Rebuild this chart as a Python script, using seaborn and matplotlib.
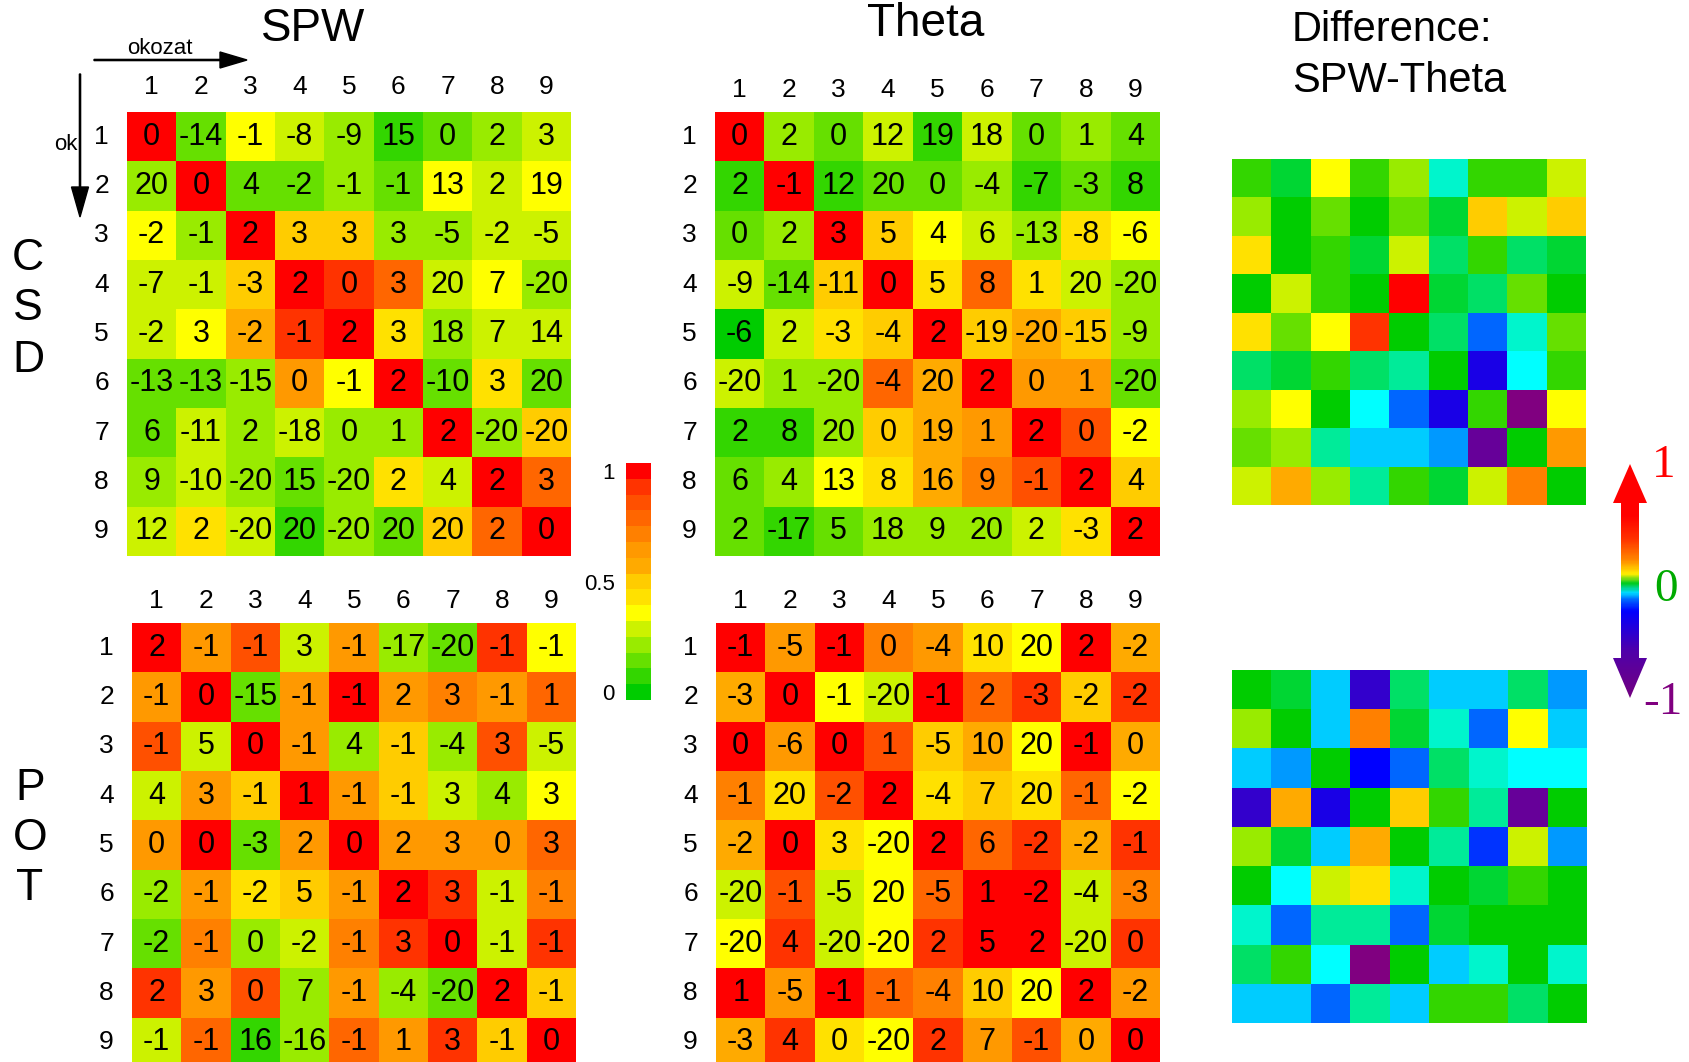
import numpy as np
import matplotlib
matplotlib.use("Agg")
import matplotlib.pyplot as plt
import seaborn as sns
from matplotlib.colors import ListedColormap, LinearSegmentedColormap
from matplotlib.patches import Polygon

channels = [str(i) for i in range(1, 10)]

# colour steps of the correlation maps: level 0 (r=0, green) .. 14 (r=1, red)
corr_colors = ["#00cc00", "#33d600", "#66e000", "#99eb00", "#ccf200", "#ffff00",
               "#ffe100", "#ffcc00", "#ffaa00", "#ff9900", "#ff8000", "#ff6600",
               "#ff5000", "#ff3300", "#ff0000"]
# difference maps: level -14 (purple) .. 0 (green) .. 14 (red)
neg_colors = ["#800080", "#660099", "#3300cc", "#1900e6", "#0000ff", "#0033ff",
              "#0066ff", "#0099ff", "#00ccff", "#00ffff", "#00f5cc", "#00eb99",
              "#00e066", "#00d633"]
diff_colors = neg_colors + corr_colors

# ---- CSD ----
spw_csd_lag = [[0, -14, -1, -8, -9, 15, 0, 2, 3],
               [20, 0, 4, -2, -1, -1, 13, 2, 19],
               [-2, -1, 2, 3, 3, 3, -5, -2, -5],
               [-7, -1, -3, 2, 0, 3, 20, 7, -20],
               [-2, 3, -2, -1, 2, 3, 18, 7, 14],
               [-13, -13, -15, 0, -1, 2, -10, 3, 20],
               [6, -11, 2, -18, 0, 1, 2, -20, -20],
               [9, -10, -20, 15, -20, 2, 4, 2, 3],
               [12, 2, -20, 20, -20, 20, 20, 2, 0]]
spw_csd_level = [[14, 2, 5, 4, 3, 1, 2, 3, 4],
                 [3, 14, 2, 2, 3, 2, 5, 4, 5],
                 [5, 3, 14, 7, 7, 3, 3, 4, 4],
                 [4, 4, 7, 14, 13, 11, 4, 5, 3],
                 [4, 5, 8, 13, 14, 6, 3, 4, 4],
                 [2, 2, 3, 9, 5, 14, 2, 6, 2],
                 [2, 4, 3, 4, 3, 3, 14, 3, 7],
                 [3, 4, 3, 2, 3, 6, 4, 14, 11],
                 [4, 6, 4, 1, 3, 2, 7, 11, 14]]

theta_csd_lag = [[0, 2, 0, 12, 19, 18, 0, 1, 4],
                 [2, -1, 12, 20, 0, -4, -7, -3, 8],
                 [0, 2, 3, 5, 4, 6, -13, -8, -6],
                 [-9, -14, -11, 0, 5, 8, 1, 20, -20],
                 [-6, 2, -3, -4, 2, -19, -20, -15, -9],
                 [-20, 1, -20, -4, 20, 2, 0, 1, -20],
                 [2, 8, 20, 0, 19, 1, 2, 0, -2],
                 [6, 4, 13, 8, 16, 9, -1, 2, 4],
                 [2, -17, 5, 18, 9, 20, 2, -3, 2]]
theta_csd_level = [[14, 3, 2, 4, 1, 4, 2, 3, 2],
                   [1, 14, 1, 2, 2, 3, 1, 2, 1],
                   [2, 3, 14, 7, 5, 4, 3, 6, 5],
                   [4, 2, 7, 14, 6, 11, 6, 4, 3],
                   [0, 4, 6, 7, 14, 7, 8, 7, 3],
                   [4, 3, 3, 11, 8, 14, 9, 9, 2],
                   [1, 1, 3, 7, 8, 9, 14, 12, 5],
                   [2, 3, 5, 6, 8, 10, 12, 14, 7],
                   [2, 1, 2, 3, 3, 3, 4, 6, 14]]

# ---- POT ----
spw_pot_lag = [[2, -1, -1, 3, -1, -17, -20, -1, -1],
               [-1, 0, -15, -1, -1, 2, 3, -1, 1],
               [-1, 5, 0, -1, 4, -1, -4, 3, -5],
               [4, 3, -1, 1, -1, -1, 3, 4, 3],
               [0, 0, -3, 2, 0, 2, 3, 0, 3],
               [-2, -1, -2, 5, -1, 2, 3, -1, -1],
               [-2, -1, 0, -2, -1, 3, 0, -1, -1],
               [2, 3, 0, 7, -1, -4, -20, 2, -1],
               [-1, -1, 16, -16, -1, 1, 3, -1, 0]]
spw_pot_level = [[14, 9, 12, 4, 9, 3, 2, 13, 5],
                 [9, 14, 2, 9, 14, 9, 10, 9, 11],
                 [12, 4, 14, 9, 3, 7, 3, 12, 4],
                 [4, 9, 7, 14, 9, 7, 4, 3, 5],
                 [9, 14, 2, 9, 14, 9, 9, 9, 11],
                 [3, 9, 6, 7, 9, 14, 13, 4, 10],
                 [2, 10, 3, 4, 10, 13, 14, 4, 13],
                 [13, 9, 12, 3, 9, 3, 2, 14, 7],
                 [4, 11, 1, 3, 11, 9, 13, 7, 14]]

theta_pot_lag = [[-1, -5, -1, 0, -4, 10, 20, 2, -2],
                 [-3, 0, -1, -20, -1, 2, -3, -2, -2],
                 [0, -6, 0, 1, -5, 10, 20, -1, 0],
                 [-1, 20, -2, 2, -4, 7, 20, -1, -2],
                 [-2, 0, 3, -20, 2, 6, -2, -2, -1],
                 [-20, -1, -5, 20, -5, 1, -2, -4, -3],
                 [-20, 4, -20, -20, 2, 5, 2, -20, 0],
                 [1, -5, -1, -1, -4, 10, 20, 2, -2],
                 [-3, 4, 0, -20, 2, 7, -1, 0, 0]]
theta_pot_level = [[14, 9, 14, 10, 9, 6, 5, 14, 8],
                   [8, 14, 5, 4, 14, 11, 13, 7, 13],
                   [14, 9, 14, 12, 7, 8, 5, 14, 8],
                   [10, 6, 12, 14, 6, 7, 6, 11, 5],
                   [8, 14, 6, 5, 14, 11, 13, 8, 13],
                   [4, 12, 4, 5, 11, 14, 14, 4, 10],
                   [5, 13, 4, 5, 13, 14, 14, 4, 13],
                   [14, 9, 14, 11, 10, 7, 5, 14, 9],
                   [8, 13, 6, 5, 13, 9, 12, 8, 14]]

# ---- difference SPW - Theta ----
diff_csd = [[1, -1, 5, 1, 3, -4, 1, 1, 4],
            [3, 0, 2, 0, 2, -1, 7, 4, 7],
            [6, 0, 1, -1, 4, -2, 1, -2, -1],
            [0, 4, 1, 0, 14, -1, -2, 2, 0],
            [6, 2, 5, 13, 0, -2, -8, -4, 2],
            [-2, -1, 1, -2, -3, 0, -11, -5, 1],
            [3, 5, 0, -5, -8, -11, 1, -14, 5],
            [2, 3, -3, -6, -6, -7, -13, 0, 9],
            [4, 8, 3, -3, 1, -1, 4, 10, 0]]
diff_pot = [[0, -1, -6, -12, -2, -6, -6, -2, -7],
            [3, 0, -6, 10, -1, -4, -8, 5, -6],
            [-6, -7, 0, -10, -8, -2, -4, -5, -5],
            [-12, 8, -11, 0, 7, 1, -3, -13, 0],
            [3, -1, -6, 8, 0, -3, -9, 4, -7],
            [0, -5, 4, 6, -4, 0, -1, 1, 0],
            [-4, -8, -3, -3, -8, -1, 0, 0, 0],
            [-2, 1, -5, -14, 0, -6, -4, 0, -4],
            [-6, -6, -8, -3, -6, 1, 1, -2, 0]]

plt.rcParams["font.family"] = ["Liberation Sans", "DejaVu Sans"]
W, H = 1689, 1062
fig = plt.figure(figsize=(W / 100, H / 100), dpi=100)


def box(x0, y0, x1, y1):
    # pixel box (top-left origin) -> figure fraction
    return [x0 / W, 1 - y1 / H, (x1 - x0) / W, (y1 - y0) / H]


corr_cmap = ListedColormap(corr_colors)
diff_cmap = ListedColormap(diff_colors)

panels = [(spw_csd_level, spw_csd_lag, box(127, 112, 571, 556), 9),
          (theta_csd_level, theta_csd_lag, box(715, 112, 1160, 556), 7),
          (spw_pot_level, spw_pot_lag, box(132, 623, 576, 1067), 7),
          (theta_pot_level, theta_pot_lag, box(716, 623, 1160, 1067), 7)]

axes = []
for level, lag, pos, xpad in panels:
    ax = fig.add_axes(pos)
    sns.heatmap(np.array(level), ax=ax, cmap=corr_cmap, vmin=-0.5, vmax=14.5,
                annot=np.array(lag), fmt="d",
                annot_kws={"fontsize": 22, "color": "black"},
                cbar=False, xticklabels=channels, yticklabels=channels)
    ax.xaxis.tick_top()
    ax.tick_params(axis="x", length=0, labelsize=19, pad=xpad)
    ax.tick_params(axis="y", length=0, labelsize=19, pad=13, rotation=0)
    axes.append(ax)

for diff, pos in [(diff_csd, box(1232, 159, 1586, 505)),
                  (diff_pot, box(1232, 670, 1587, 1023))]:
    ax = fig.add_axes(pos)
    sns.heatmap(np.array(diff), ax=ax, cmap=diff_cmap, vmin=-14.5, vmax=14.5,
                cbar=False, xticklabels=False, yticklabels=False)

# correlation colour bar
cax = fig.add_axes(box(626, 463, 651, 700))
cb = fig.colorbar(axes[0].collections[0], cax=cax)
cb.set_ticks([0, 7, 14])
cb.set_ticklabels(["0", "0.5", "1"])
cax.yaxis.set_ticks_position("left")
cax.tick_params(length=0, labelsize=16, pad=8)
cb.outline.set_visible(False)

# overlay for titles, arrows and side labels (pixel coordinates)
ov = fig.add_axes([0, 0, 1, 1])
ov.axis("off")

ov.text(313, 29, "SPW", fontsize=33, ha="center", va="center")
ov.text(926, 24, "Theta", fontsize=33, ha="center", va="center")
ov.text(1292, 30, "Difference:", fontsize=30, ha="left", va="center")
ov.text(1292, 81, "SPW-Theta", fontsize=30, ha="left", va="center")

for ch, y in zip("CSD", [258, 309, 361]):
    ov.text(28, y, ch, fontsize=32, ha="center", va="center")
for ch, y in zip("POT", [788, 838, 889]):
    ov.text(30, y, ch, fontsize=32, ha="center", va="center")

ov.text(160, 48, "okozat", fontsize=16, ha="center", va="center")
ov.text(66, 145, "ok", fontsize=16, ha="center", va="center")
ov.arrow(94, 60, 153, 0, width=1.2, head_width=16, head_length=27,
         length_includes_head=True, color="black")
ov.arrow(80, 74, 0, 143, width=1.2, head_width=17, head_length=30,
         length_includes_head=True, color="black")

# rainbow double arrow for the difference scale
arrow_cmap = LinearSegmentedColormap.from_list("arrow", [
    (0.0, "#720080"), (0.2, "#5000aa"), (0.37, "#0000ff"), (0.42, "#0066ff"),
    (0.45, "#00ddff"), (0.49, "#00cc22"), (0.53, "#ffee00"), (0.59, "#ff8800"),
    (0.68, "#ff3300"), (0.78, "#ff0000"), (1.0, "#ff0000")])
pts = [(1630, 464), (1647, 503), (1639, 503), (1639, 658), (1647, 658),
       (1630, 698), (1613, 658), (1621, 658), (1621, 503), (1613, 503)]
shape = Polygon(pts, closed=True, facecolor="none", edgecolor="none")
ov.add_patch(shape)
grad = np.linspace(1, -1, 300)[:, None]
im = ov.imshow(grad, cmap=arrow_cmap, vmin=-1, vmax=1, aspect="auto",
               extent=(1613, 1647, 698, 464), origin="upper")
im.set_clip_path(shape)

serif = ["Liberation Serif", "DejaVu Serif"]
ov.text(1664, 466, "1", fontsize=34, color="#ff0000", family=serif, ha="center", va="center")
ov.text(1666, 590, "0", fontsize=34, color="#00aa00", family=serif, ha="center", va="center")
ov.text(1663, 703, "-1", fontsize=34, color="#800080", family=serif, ha="center", va="center")

ov.set_xlim(0, W)
ov.set_ylim(H, 0)

fig.savefig("out.png", dpi=100)
